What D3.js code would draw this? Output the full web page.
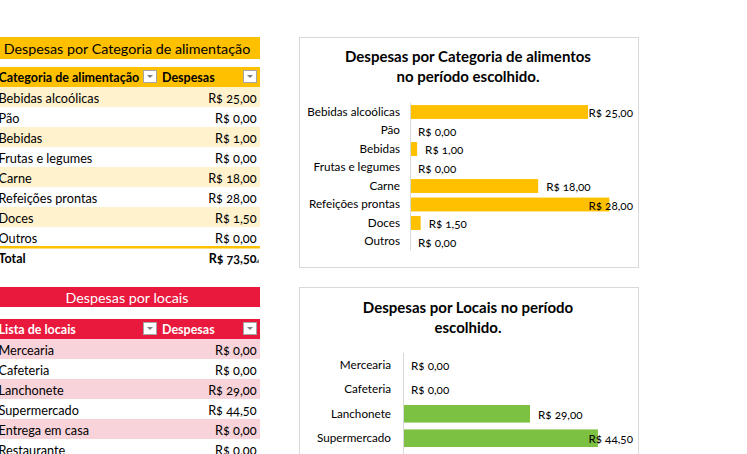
<!DOCTYPE html>
<html>
<head>
<meta charset="utf-8">
<script src="https://cdn.jsdelivr.net/npm/d3@7"></script>
<style>
  html, body { margin: 0; padding: 0; background: #fff; }
  svg { display: block; font-family: Lato, "Open Sans", sans-serif; font-variant-numeric: oldstyle-nums; }
</style>
</head>
<body>
<svg id="sheet" width="747" height="454"></svg>
<script>
const categorias = ["Bebidas alcoólicas", "Pão", "Bebidas", "Frutas e legumes", "Carne", "Refeições prontas", "Doces", "Outros"];
const despesasCategoria = [25, 0, 1, 0, 18, 28, 1.5, 0];

const locais = ["Mercearia", "Cafeteria", "Lanchonete", "Supermercado", "Entrega em casa", "Restaurante"];
const despesasLocais = [0, 0, 29, 44.5, 0, 0];

const YELLOW = "#FFC000";
const YELLOW_LIGHT = "#FFF2CC";
const RED = "#E8193C";
const PINK = "#F9D3DA";
const GREEN = "#7DC142";

const brl = d3.formatLocale({ decimal: ",", thousands: ".", grouping: [3], currency: ["R$ ", ""] }).format("$,.2f");

const svg = d3.select("#sheet");
svg.append("rect").attr("width", 747).attr("height", 454).attr("fill", "#fff");

function dropdown(g, x, y) {
    g.append("rect")
        .attr("x", x + 0.5).attr("y", y + 0.5)
        .attr("width", 13).attr("height", 12)
        .attr("fill", "#fff").attr("stroke", "#A6A6A6");
    g.append("path")
        .attr("d", `M${x + 4},${y + 5}h6l-3,3z`)
        .attr("fill", "#808080");
}

function drawTable(opts) {
    const g = svg.append("g");
    const n = opts.labels.length;

    // faixa do título
    g.append("rect")
        .attr("x", 0).attr("y", opts.titleY)
        .attr("width", 260).attr("height", opts.titleH)
        .attr("fill", opts.titleFill);
    g.append("text")
        .attr("x", 127).attr("y", opts.titleY + opts.titleH / 2 + 5.5)
        .attr("text-anchor", "middle")
        .attr("font-size", 14.3)
        .attr("fill", opts.titleColor)
        .text(opts.title);

    // cabeçalho
    const hy = opts.headerY;
    g.append("rect")
        .attr("x", 0).attr("y", hy)
        .attr("width", 260).attr("height", 20)
        .attr("fill", opts.headerFill);
    g.append("text")
        .attr("x", -1.5).attr("y", hy + 15)
        .attr("font-size", 12.5).attr("font-weight", "bold")
        .attr("fill", opts.headerColor)
        .text(opts.headers[0]);
    g.append("text")
        .attr("x", 162).attr("y", hy + 15)
        .attr("font-size", 12.5).attr("font-weight", "bold")
        .attr("fill", opts.headerColor)
        .text(opts.headers[1]);
    dropdown(g, 143, hy + 3);
    dropdown(g, 243, hy + 3);

    const y = d3.scaleBand()
        .domain(d3.range(n))
        .range([hy + 20, hy + 20 + 20 * n]);

    const rows = g.selectAll(".row")
        .data(opts.labels.map((l, i) => ({ label: l, value: opts.values[i], i })))
        .join("g")
        .attr("class", "row")
        .attr("transform", d => `translate(0,${y(d.i)})`);

    rows.append("rect")
        .attr("width", 260).attr("height", y.bandwidth())
        .attr("fill", d => d.i % 2 === 0 ? opts.bandFill : "#fff");
    rows.append("text")
        .attr("x", -1.5).attr("y", 16)
        .attr("font-size", 12.7)
        .text(d => d.label);
    rows.append("text")
        .attr("x", 256.5).attr("y", 16)
        .attr("text-anchor", "end")
        .attr("font-size", 12.7)
        .text(d => brl(d.value));

    if (opts.total) {
        const ty = y.range()[1];
        g.append("rect")
            .attr("x", 0).attr("y", ty - 1)
            .attr("width", 260).attr("height", 2.5)
            .attr("fill", opts.titleFill);
        g.append("text")
            .attr("x", -1.5).attr("y", ty + 15.5)
            .attr("font-size", 12.5).attr("font-weight", "bold")
            .text("Total");
        g.append("text")
            .attr("x", 256.5).attr("y", ty + 15.5)
            .attr("text-anchor", "end")
            .attr("font-size", 12.5).attr("font-weight", "bold")
            .text(brl(d3.sum(opts.values)));
        g.append("path")
            .attr("d", `M${259},${ty + 12}v4h-4z`)
            .attr("fill", "#7F7F7F");
    }
}

function drawBarChart(opts) {
    const g = svg.append("g");

    g.append("rect")
        .attr("x", 299.5).attr("y", opts.boxY + 0.5)
        .attr("width", 339).attr("height", opts.boxH)
        .attr("fill", "#fff").attr("stroke", "#D9D9D9");

    g.selectAll(".title")
        .data(opts.title)
        .join("text")
        .attr("class", "title")
        .attr("x", 468).attr("y", (d, i) => opts.titleY + i * 20)
        .attr("text-anchor", "middle")
        .attr("font-size", 15).attr("font-weight", "bold")
        .attr("fill", "#000")
        .text(d => d);

    const x = d3.scaleLinear().domain([0, opts.xMax]).range(opts.xRange);
    const y = d3.scaleBand()
        .domain(opts.cats)
        .range(opts.yRange)
        .paddingInner(opts.pad)
        .paddingOuter(opts.pad / 2);

    const data = opts.cats.map((c, i) => ({ cat: c, value: opts.vals[i] }));

    g.selectAll(".bar")
        .data(data)
        .join("rect")
        .attr("class", "bar")
        .attr("x", x(0))
        .attr("y", d => y(d.cat))
        .attr("width", d => x(d.value) - x(0))
        .attr("height", y.bandwidth())
        .attr("fill", opts.color);

    // eixo de categorias
    const axis = g.append("g")
        .attr("transform", `translate(${x(0)},0)`)
        .call(d3.axisLeft(y).tickSize(0).tickPadding(opts.tickPad));
    axis.select(".domain").attr("stroke", "#D9D9D9").attr("d", `M0.5,${opts.yRange[0]}V${opts.yRange[1]}`);
    axis.selectAll("text")
        .attr("font-size", 11.7)
        .attr("fill", "#000");
    axis.attr("font-family", null);

    // rótulos de valor
    const labels = g.selectAll(".val")
        .data(data)
        .join("text")
        .attr("class", "val")
        .attr("y", d => y(d.cat) + y.bandwidth() / 2 + 5)
        .attr("font-size", 11.7)
        .attr("fill", "#000")
        .text(d => brl(d.value));
    labels.attr("x", function (d) {
        const w = this.getComputedTextLength();
        return Math.min(x(d.value) + 8, 633 - w);
    });
}

drawTable({
    title: "Despesas por Categoria de alimentação",
    titleFill: YELLOW, titleColor: "#000",
    titleY: 37, titleH: 22,
    headerY: 67, headerFill: YELLOW, headerColor: "#000",
    headers: ["Categoria de alimentação", "Despesas"],
    bandFill: YELLOW_LIGHT,
    labels: categorias, values: despesasCategoria,
    total: true
});

drawTable({
    title: "Despesas por locais",
    titleFill: RED, titleColor: "#fff",
    titleY: 287, titleH: 20,
    headerY: 319, headerFill: RED, headerColor: "#fff",
    headers: ["Lista de locais", "Despesas"],
    bandFill: PINK,
    labels: locais, values: despesasLocais,
    total: false
});

drawBarChart({
    boxY: 37, boxH: 230,
    title: ["Despesas por Categoria de alimentos", "no período escolhido."],
    titleY: 62,
    cats: categorias, vals: despesasCategoria,
    color: YELLOW,
    xMax: 30, xRange: [410, 623.6],
    yRange: [102.75, 250.75], pad: 0.25, tickPad: 10
});

drawBarChart({
    boxY: 287, boxH: 200,
    title: ["Despesas por Locais no período", "escolhido."],
    titleY: 313,
    cats: locais, vals: despesasLocais,
    color: GREEN,
    xMax: 50, xRange: [403, 622],
    yRange: [352.8, 499.2], pad: 0.28, tickPad: 12
});
</script>
</body>
</html>
